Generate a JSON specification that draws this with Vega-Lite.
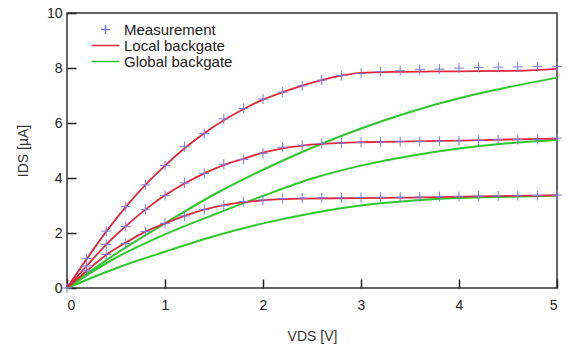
{
  "$schema": "https://vega.github.io/schema/vega-lite/v6.json",
  "autosize": "none",
  "width": 490,
  "height": 275,
  "padding": {"left": 67, "top": 13, "right": 11, "bottom": 59},
  "background": "white",
  "config": {
    "view": {"stroke": "#333", "strokeWidth": 1.5},
    "font": "Liberation Sans",
    "axis": {"grid": false, "domain": false, "tickColor": "#222", "tickWidth": 1.5, "tickSize": -9, "labelFont": "Liberation Sans", "labelFontSize": 14, "labelColor": "#222", "titleFont": "Liberation Sans", "titleFontSize": 14, "titleFontWeight": "normal", "titleColor": "#333"}
  },
  "data": {"values": [
    {"series": "Measurement", "curve": "c", "vds": 0, "ids": 0},
    {"series": "Measurement", "curve": "c", "vds": 0.2, "ids": 1.08},
    {"series": "Measurement", "curve": "c", "vds": 0.4, "ids": 2.07},
    {"series": "Measurement", "curve": "c", "vds": 0.6, "ids": 2.96},
    {"series": "Measurement", "curve": "c", "vds": 0.8, "ids": 3.75},
    {"series": "Measurement", "curve": "c", "vds": 1.0, "ids": 4.45},
    {"series": "Measurement", "curve": "c", "vds": 1.2, "ids": 5.14},
    {"series": "Measurement", "curve": "c", "vds": 1.4, "ids": 5.62},
    {"series": "Measurement", "curve": "c", "vds": 1.6, "ids": 6.15},
    {"series": "Measurement", "curve": "c", "vds": 1.8, "ids": 6.53},
    {"series": "Measurement", "curve": "c", "vds": 2.0, "ids": 6.87},
    {"series": "Measurement", "curve": "c", "vds": 2.2, "ids": 7.12},
    {"series": "Measurement", "curve": "c", "vds": 2.4, "ids": 7.35},
    {"series": "Measurement", "curve": "c", "vds": 2.6, "ids": 7.56},
    {"series": "Measurement", "curve": "c", "vds": 2.8, "ids": 7.73},
    {"series": "Measurement", "curve": "c", "vds": 3.0, "ids": 7.8},
    {"series": "Measurement", "curve": "c", "vds": 3.2, "ids": 7.87},
    {"series": "Measurement", "curve": "c", "vds": 3.4, "ids": 7.9},
    {"series": "Measurement", "curve": "c", "vds": 3.6, "ids": 7.95},
    {"series": "Measurement", "curve": "c", "vds": 3.8, "ids": 7.96},
    {"series": "Measurement", "curve": "c", "vds": 4.0, "ids": 8.0},
    {"series": "Measurement", "curve": "c", "vds": 4.2, "ids": 8.02},
    {"series": "Measurement", "curve": "c", "vds": 4.4, "ids": 8.03},
    {"series": "Measurement", "curve": "c", "vds": 4.6, "ids": 8.04},
    {"series": "Measurement", "curve": "c", "vds": 4.8, "ids": 8.05},
    {"series": "Measurement", "curve": "c", "vds": 5.0, "ids": 8.05},
    {"series": "Measurement", "curve": "b", "vds": 0.2, "ids": 0.8},
    {"series": "Measurement", "curve": "b", "vds": 0.4, "ids": 1.58},
    {"series": "Measurement", "curve": "b", "vds": 0.6, "ids": 2.24},
    {"series": "Measurement", "curve": "b", "vds": 0.8, "ids": 2.86},
    {"series": "Measurement", "curve": "b", "vds": 1.0, "ids": 3.37},
    {"series": "Measurement", "curve": "b", "vds": 1.2, "ids": 3.82},
    {"series": "Measurement", "curve": "b", "vds": 1.4, "ids": 4.17},
    {"series": "Measurement", "curve": "b", "vds": 1.6, "ids": 4.5},
    {"series": "Measurement", "curve": "b", "vds": 1.8, "ids": 4.68},
    {"series": "Measurement", "curve": "b", "vds": 2.0, "ids": 4.9},
    {"series": "Measurement", "curve": "b", "vds": 2.2, "ids": 5.12},
    {"series": "Measurement", "curve": "b", "vds": 2.4, "ids": 5.19},
    {"series": "Measurement", "curve": "b", "vds": 2.6, "ids": 5.26},
    {"series": "Measurement", "curve": "b", "vds": 2.8, "ids": 5.27},
    {"series": "Measurement", "curve": "b", "vds": 3.0, "ids": 5.3},
    {"series": "Measurement", "curve": "b", "vds": 3.2, "ids": 5.31},
    {"series": "Measurement", "curve": "b", "vds": 3.4, "ids": 5.32},
    {"series": "Measurement", "curve": "b", "vds": 3.6, "ids": 5.33},
    {"series": "Measurement", "curve": "b", "vds": 3.8, "ids": 5.34},
    {"series": "Measurement", "curve": "b", "vds": 4.0, "ids": 5.35},
    {"series": "Measurement", "curve": "b", "vds": 4.2, "ids": 5.37},
    {"series": "Measurement", "curve": "b", "vds": 4.4, "ids": 5.39},
    {"series": "Measurement", "curve": "b", "vds": 4.6, "ids": 5.4},
    {"series": "Measurement", "curve": "b", "vds": 4.8, "ids": 5.41},
    {"series": "Measurement", "curve": "b", "vds": 5.0, "ids": 5.45},
    {"series": "Measurement", "curve": "a", "vds": 0.2, "ids": 0.62},
    {"series": "Measurement", "curve": "a", "vds": 0.4, "ids": 1.22},
    {"series": "Measurement", "curve": "a", "vds": 0.6, "ids": 1.62},
    {"series": "Measurement", "curve": "a", "vds": 0.8, "ids": 2.05},
    {"series": "Measurement", "curve": "a", "vds": 1.0, "ids": 2.35},
    {"series": "Measurement", "curve": "a", "vds": 1.2, "ids": 2.62},
    {"series": "Measurement", "curve": "a", "vds": 1.4, "ids": 2.85},
    {"series": "Measurement", "curve": "a", "vds": 1.6, "ids": 3.0},
    {"series": "Measurement", "curve": "a", "vds": 1.8, "ids": 3.14},
    {"series": "Measurement", "curve": "a", "vds": 2.0, "ids": 3.2},
    {"series": "Measurement", "curve": "a", "vds": 2.2, "ids": 3.25},
    {"series": "Measurement", "curve": "a", "vds": 2.4, "ids": 3.27},
    {"series": "Measurement", "curve": "a", "vds": 2.6, "ids": 3.28},
    {"series": "Measurement", "curve": "a", "vds": 2.8, "ids": 3.28},
    {"series": "Measurement", "curve": "a", "vds": 3.0, "ids": 3.29},
    {"series": "Measurement", "curve": "a", "vds": 3.2, "ids": 3.3},
    {"series": "Measurement", "curve": "a", "vds": 3.4, "ids": 3.3},
    {"series": "Measurement", "curve": "a", "vds": 3.6, "ids": 3.31},
    {"series": "Measurement", "curve": "a", "vds": 3.8, "ids": 3.32},
    {"series": "Measurement", "curve": "a", "vds": 4.0, "ids": 3.33},
    {"series": "Measurement", "curve": "a", "vds": 4.2, "ids": 3.34},
    {"series": "Measurement", "curve": "a", "vds": 4.4, "ids": 3.35},
    {"series": "Measurement", "curve": "a", "vds": 4.6, "ids": 3.36},
    {"series": "Measurement", "curve": "a", "vds": 4.8, "ids": 3.36},
    {"series": "Measurement", "curve": "a", "vds": 5.0, "ids": 3.38},

    {"series": "Local backgate", "curve": "c", "vds": 0, "ids": 0},
    {"series": "Local backgate", "curve": "c", "vds": 0.2, "ids": 1.05},
    {"series": "Local backgate", "curve": "c", "vds": 0.4, "ids": 2.05},
    {"series": "Local backgate", "curve": "c", "vds": 0.6, "ids": 2.95},
    {"series": "Local backgate", "curve": "c", "vds": 0.8, "ids": 3.75},
    {"series": "Local backgate", "curve": "c", "vds": 1.0, "ids": 4.45},
    {"series": "Local backgate", "curve": "c", "vds": 1.2, "ids": 5.08},
    {"series": "Local backgate", "curve": "c", "vds": 1.4, "ids": 5.63},
    {"series": "Local backgate", "curve": "c", "vds": 1.6, "ids": 6.1},
    {"series": "Local backgate", "curve": "c", "vds": 1.8, "ids": 6.5},
    {"series": "Local backgate", "curve": "c", "vds": 2.0, "ids": 6.85},
    {"series": "Local backgate", "curve": "c", "vds": 2.2, "ids": 7.12},
    {"series": "Local backgate", "curve": "c", "vds": 2.4, "ids": 7.36},
    {"series": "Local backgate", "curve": "c", "vds": 2.6, "ids": 7.56},
    {"series": "Local backgate", "curve": "c", "vds": 2.8, "ids": 7.72},
    {"series": "Local backgate", "curve": "c", "vds": 3.0, "ids": 7.82},
    {"series": "Local backgate", "curve": "c", "vds": 3.4, "ids": 7.86},
    {"series": "Local backgate", "curve": "c", "vds": 4.0, "ids": 7.88},
    {"series": "Local backgate", "curve": "c", "vds": 4.6, "ids": 7.9},
    {"series": "Local backgate", "curve": "c", "vds": 5.0, "ids": 7.97},
    {"series": "Local backgate", "curve": "b", "vds": 0, "ids": 0},
    {"series": "Local backgate", "curve": "b", "vds": 0.2, "ids": 0.8},
    {"series": "Local backgate", "curve": "b", "vds": 0.4, "ids": 1.58},
    {"series": "Local backgate", "curve": "b", "vds": 0.6, "ids": 2.25},
    {"series": "Local backgate", "curve": "b", "vds": 0.8, "ids": 2.85},
    {"series": "Local backgate", "curve": "b", "vds": 1.0, "ids": 3.37},
    {"series": "Local backgate", "curve": "b", "vds": 1.2, "ids": 3.8},
    {"series": "Local backgate", "curve": "b", "vds": 1.4, "ids": 4.17},
    {"series": "Local backgate", "curve": "b", "vds": 1.6, "ids": 4.47},
    {"series": "Local backgate", "curve": "b", "vds": 1.8, "ids": 4.7},
    {"series": "Local backgate", "curve": "b", "vds": 2.0, "ids": 4.92},
    {"series": "Local backgate", "curve": "b", "vds": 2.2, "ids": 5.08},
    {"series": "Local backgate", "curve": "b", "vds": 2.4, "ids": 5.18},
    {"series": "Local backgate", "curve": "b", "vds": 2.6, "ids": 5.24},
    {"series": "Local backgate", "curve": "b", "vds": 2.8, "ids": 5.28},
    {"series": "Local backgate", "curve": "b", "vds": 3.0, "ids": 5.3},
    {"series": "Local backgate", "curve": "b", "vds": 3.5, "ids": 5.33},
    {"series": "Local backgate", "curve": "b", "vds": 4.0, "ids": 5.36},
    {"series": "Local backgate", "curve": "b", "vds": 4.5, "ids": 5.4},
    {"series": "Local backgate", "curve": "b", "vds": 5.0, "ids": 5.43},
    {"series": "Local backgate", "curve": "a", "vds": 0, "ids": 0},
    {"series": "Local backgate", "curve": "a", "vds": 0.2, "ids": 0.62},
    {"series": "Local backgate", "curve": "a", "vds": 0.4, "ids": 1.2},
    {"series": "Local backgate", "curve": "a", "vds": 0.6, "ids": 1.65},
    {"series": "Local backgate", "curve": "a", "vds": 0.8, "ids": 2.05},
    {"series": "Local backgate", "curve": "a", "vds": 1.0, "ids": 2.35},
    {"series": "Local backgate", "curve": "a", "vds": 1.2, "ids": 2.62},
    {"series": "Local backgate", "curve": "a", "vds": 1.4, "ids": 2.85},
    {"series": "Local backgate", "curve": "a", "vds": 1.6, "ids": 3.01},
    {"series": "Local backgate", "curve": "a", "vds": 1.8, "ids": 3.12},
    {"series": "Local backgate", "curve": "a", "vds": 2.0, "ids": 3.19},
    {"series": "Local backgate", "curve": "a", "vds": 2.2, "ids": 3.23},
    {"series": "Local backgate", "curve": "a", "vds": 2.4, "ids": 3.25},
    {"series": "Local backgate", "curve": "a", "vds": 3.0, "ids": 3.27},
    {"series": "Local backgate", "curve": "a", "vds": 3.5, "ids": 3.29},
    {"series": "Local backgate", "curve": "a", "vds": 4.0, "ids": 3.32},
    {"series": "Local backgate", "curve": "a", "vds": 4.5, "ids": 3.35},
    {"series": "Local backgate", "curve": "a", "vds": 5.0, "ids": 3.37},

    {"series": "Global backgate", "curve": "c", "vds": 0, "ids": 0},
    {"series": "Global backgate", "curve": "c", "vds": 0.5, "ids": 1.25},
    {"series": "Global backgate", "curve": "c", "vds": 1.0, "ids": 2.35},
    {"series": "Global backgate", "curve": "c", "vds": 1.5, "ids": 3.4},
    {"series": "Global backgate", "curve": "c", "vds": 2.0, "ids": 4.3},
    {"series": "Global backgate", "curve": "c", "vds": 2.5, "ids": 5.1},
    {"series": "Global backgate", "curve": "c", "vds": 3.0, "ids": 5.8},
    {"series": "Global backgate", "curve": "c", "vds": 3.5, "ids": 6.4},
    {"series": "Global backgate", "curve": "c", "vds": 4.0, "ids": 6.9},
    {"series": "Global backgate", "curve": "c", "vds": 4.5, "ids": 7.3},
    {"series": "Global backgate", "curve": "c", "vds": 5.0, "ids": 7.65},
    {"series": "Global backgate", "curve": "b", "vds": 0, "ids": 0},
    {"series": "Global backgate", "curve": "b", "vds": 0.5, "ids": 1.1},
    {"series": "Global backgate", "curve": "b", "vds": 1.0, "ids": 1.95},
    {"series": "Global backgate", "curve": "b", "vds": 1.5, "ids": 2.67},
    {"series": "Global backgate", "curve": "b", "vds": 2.0, "ids": 3.35},
    {"series": "Global backgate", "curve": "b", "vds": 2.5, "ids": 3.98},
    {"series": "Global backgate", "curve": "b", "vds": 3.0, "ids": 4.45},
    {"series": "Global backgate", "curve": "b", "vds": 3.5, "ids": 4.8},
    {"series": "Global backgate", "curve": "b", "vds": 4.0, "ids": 5.07},
    {"series": "Global backgate", "curve": "b", "vds": 4.5, "ids": 5.26},
    {"series": "Global backgate", "curve": "b", "vds": 5.0, "ids": 5.38},
    {"series": "Global backgate", "curve": "a", "vds": 0, "ids": 0},
    {"series": "Global backgate", "curve": "a", "vds": 0.5, "ids": 0.72},
    {"series": "Global backgate", "curve": "a", "vds": 1.0, "ids": 1.32},
    {"series": "Global backgate", "curve": "a", "vds": 1.5, "ids": 1.88},
    {"series": "Global backgate", "curve": "a", "vds": 2.0, "ids": 2.35},
    {"series": "Global backgate", "curve": "a", "vds": 2.5, "ids": 2.72},
    {"series": "Global backgate", "curve": "a", "vds": 3.0, "ids": 3.0},
    {"series": "Global backgate", "curve": "a", "vds": 3.5, "ids": 3.17},
    {"series": "Global backgate", "curve": "a", "vds": 4.0, "ids": 3.27},
    {"series": "Global backgate", "curve": "a", "vds": 4.5, "ids": 3.32},
    {"series": "Global backgate", "curve": "a", "vds": 5.0, "ids": 3.36}
  ]},
  "encoding": {
    "x": {"field": "vds", "type": "quantitative", "scale": {"domain": [0, 5], "nice": false, "zero": false}, "axis": {"values": [0, 1, 2, 3, 4, 5], "labelPadding": 19, "title": "VDS [V]", "titlePadding": 17}},
    "y": {"field": "ids", "type": "quantitative", "scale": {"domain": [0, 10], "nice": false}, "axis": {"values": [0, 2, 4, 6, 8, 10], "labelPadding": 14, "title": "IDS [µA]", "titlePadding": 16}},
    "color": {"field": "series", "type": "nominal", "scale": {"domain": ["Measurement", "Local backgate", "Global backgate"], "range": ["#7b7bdc", "#e0283c", "#2ec82e"]},
      "legend": {"orient": "none", "legendX": 31, "legendY": 9, "title": null, "labelFontSize": 15, "labelColor": "#222", "symbolSize": 144, "symbolStrokeWidth": 1.5, "rowPadding": 0, "padding": 0, "labelOffset": 11}}
  },
  "layer": [
    {"transform": [{"filter": "datum.series === 'Global backgate'"}], "mark": {"type": "line", "strokeWidth": 2, "interpolate": "monotone"}, "encoding": {"detail": {"field": "curve"}}},
    {"transform": [{"filter": "datum.series === 'Local backgate'"}], "mark": {"type": "line", "strokeWidth": 1.8, "interpolate": "monotone"}, "encoding": {"detail": {"field": "curve"}}},
    {"transform": [{"filter": "datum.series === 'Measurement'"}], "mark": {"type": "point", "filled": false, "size": 178, "strokeWidth": 1, "opacity": 1},
      "encoding": {"shape": {"field": "series", "type": "nominal", "scale": {"domain": ["Measurement", "Local backgate", "Global backgate"], "range": ["M-0.75,0H0.75M0,-0.75V0.75", "M-2.33,0H2.33", "M-2.33,0H2.33"]}, "legend": {"orient": "none", "legendX": 31, "legendY": 9, "title": null, "labelFontSize": 15, "labelColor": "#222", "symbolSize": 144, "symbolStrokeWidth": 1.5, "rowPadding": 0, "padding": 0, "labelOffset": 11}}}}
  ]
}
